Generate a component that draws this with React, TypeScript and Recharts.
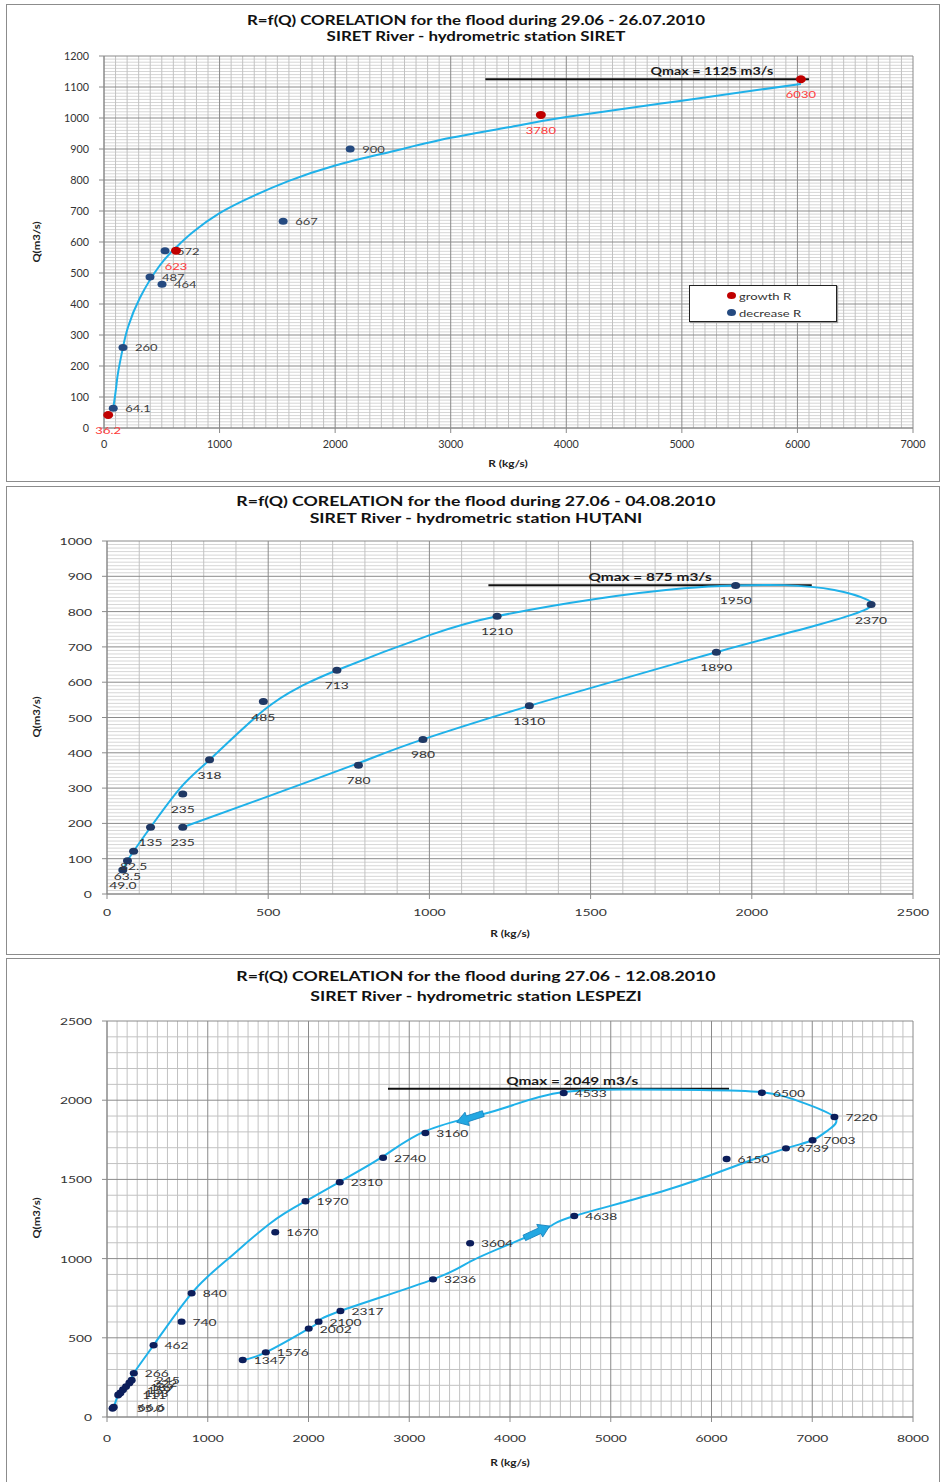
import React from 'react';
import { ComposedChart, Scatter, Line, XAxis, YAxis, ReferenceLine, Legend } from 'recharts';

const FONT = 'Lato, "Liberation Sans", sans-serif';
const LINE_BLUE = '#1FB1E9';

// ---------------- SIRET (chart 1) ----------------
const siretTitle = ['R=f(Q) CORELATION for the flood during 29.06 - 26.07.2010', 'SIRET River - hydrometric station SIRET'];
const siretXTicks = [0, 1000, 2000, 3000, 4000, 5000, 6000, 7000];
const siretYTicks = [0, 100, 200, 300, 400, 500, 600, 700, 800, 900, 1000, 1100, 1200];
const siretGrowthR = [36.2, 623, 3780, 6030];
const siretGrowthQ = [42, 572, 1010, 1125];
const siretGrowthLabels = ['36.2', '623', '3780', '6030'];
const siretDecreaseR = [2130, 1550, 528, 398, 502, 164, 80];
const siretDecreaseQ = [900, 667, 572, 487, 464, 260, 64.1];
const siretDecreaseLabels = ['900', '667', '572', '487', '464', '260', '64.1'];
const siretCurveR = [80, 105, 121, 164, 208, 311, 484, 630, 770, 1000, 1290, 1600, 2000, 2500, 3000, 3500, 4000, 5000, 6030];
const siretCurveQ = [64, 130, 177, 260, 326, 420, 525, 585, 632, 693, 748, 797, 847, 893, 936, 970, 1003, 1056, 1110];
const siretQmax = { from: 3300, to: 6100, q: 1125, text: 'Qmax = 1125 m3/s' };

// ---------------- HUTANI (chart 2) ----------------
const hutaniTitle = ['R=f(Q) CORELATION for the flood during 27.06 - 04.08.2010', 'SIRET River - hydrometric station HUȚANI'];
const hutaniXTicks = [0, 500, 1000, 1500, 2000, 2500];
const hutaniYTicks = [0, 100, 200, 300, 400, 500, 600, 700, 800, 900, 1000];
const hutaniR = [49, 63.5, 82.5, 135, 235, 318, 485, 713, 1210, 1950, 2370, 1890, 1310, 980, 780, 235];
const hutaniQ = [68, 94, 121, 189, 283, 380, 545, 634, 787, 874, 820, 685, 533, 438, 365, 189];
const hutaniLabels = ['49.0', '63.5', '82.5', '135', '235', '318', '485', '713', '1210', '1950', '2370', '1890', '1310', '980', '780', '235'];
const hutaniCurveR = [49, 63.5, 82.5, 135, 227, 318, 487, 599, 713, 1003, 1210, 1510, 1790, 1950, 2100, 2256, 2359, 2370, 2349, 2204, 1890, 1510, 1310, 980, 784, 504, 235];
const hutaniCurveQ = [68, 94, 121, 189, 300, 380, 521, 587, 634, 734, 787, 835, 866, 874, 875, 861, 833, 820, 804, 762, 685, 586, 533, 438, 372, 278, 189];
const hutaniQmax = { from: 1183, to: 2186, q: 875, text: 'Qmax = 875 m3/s' };

// ---------------- LESPEZI (chart 3) ----------------
const lespeziTitle = ['R=f(Q) CORELATION for the flood during 27.06 - 12.08.2010', 'SIRET River - hydrometric station LESPEZI'];
const lespeziXTicks = [0, 1000, 2000, 3000, 4000, 5000, 6000, 7000, 8000];
const lespeziYTicks = [0, 500, 1000, 1500, 2000, 2500];
const lespeziClusterR = [55, 66.6, 111, 133, 159, 189, 222, 245];
const lespeziClusterQ = [55, 62, 139, 152, 172, 192, 215, 232];
const lespeziClusterLabels = ['55.0', '66.6', '111', '133', '159', '189', '222', '245'];
const lespeziR = [266, 462, 740, 840, 1670, 1970, 2310, 2740, 3160, 4533, 6500, 7220, 7003, 6739, 6150, 4638, 3604, 3236, 2317, 2100, 2002, 1576, 1347];
const lespeziQ = [276, 453, 602, 781, 1166, 1362, 1482, 1637, 1793, 2045, 2047, 1894, 1747, 1696, 1629, 1269, 1097, 869, 669, 602, 558, 408, 360];
const lespeziLabels = ['266', '462', '740', '840', '1670', '1970', '2310', '2740', '3160', '4533', '6500', '7220', '7003', '6739', '6150', '4638', '3604', '3236', '2317', '2100', '2002', '1576', '1347'];
const lespeziCurveR = [66.6, 111, 159, 222, 266, 462, 840, 1188, 1618, 1970, 2310, 2740, 3160, 3702, 4033, 4533, 5224, 5886, 6500, 6878, 7220, 7160, 7003, 6739, 6217, 5554, 4638, 4397, 4033, 3613, 3236, 2317, 2100, 2002, 1576, 1347];
const lespeziCurveQ = [60, 139, 172, 215, 276, 453, 781, 991, 1222, 1362, 1485, 1645, 1805, 1907, 1970, 2052, 2068, 2064, 2050, 1991, 1894, 1812, 1747, 1696, 1580, 1433, 1269, 1203, 1101, 984, 869, 669, 602, 558, 408, 360];
const lespeziArrowR = [3603, 4268];
const lespeziArrowQ = [1888, 1168];
const lespeziArrowAngle = [162, -25];
const lespeziQmax = { from: 2789, to: 6174, q: 2072, text: 'Qmax  = 2049 m3/s' };

// ---------------- helpers ----------------
type Pt = { r: number; q: number; label?: string; angle?: number };
const zip = (rs: number[], qs: number[], labels?: string[]): Pt[] =>
  rs.map((r, i) => ({ r, q: qs[i], label: labels ? labels[i] : undefined }));

function steps(a: number, b: number, s: number) {
  const out: number[] = [];
  for (let i = 0; a + i * s <= b + 1e-9; i++) out.push(Math.round((a + i * s) * 1000) / 1000);
  return out;
}

const MINOR = '#C2C2C2';
const MAJOR = '#8A8A8A';

function gridLines(prefix: string, xs: number[], ys: number[], xMajor: number, yMajor: number, hMinor: string, vMinor: string) {
  const isMaj = (v: number, m: number) => Math.abs(v % m) < 1e-6;
  const out: any[] = [];
  ys.filter((v) => !isMaj(v, yMajor)).forEach((v) =>
    out.push(<ReferenceLine key={`${prefix}hm${v}`} y={v} stroke={hMinor} strokeWidth={1} />));
  xs.filter((v) => !isMaj(v, xMajor)).forEach((v) =>
    out.push(<ReferenceLine key={`${prefix}vm${v}`} x={v} stroke={vMinor} strokeWidth={1} />));
  ys.filter((v) => isMaj(v, yMajor)).forEach((v) =>
    out.push(<ReferenceLine key={`${prefix}hM${v}`} y={v} stroke={MAJOR} strokeWidth={1} />));
  xs.filter((v) => isMaj(v, xMajor)).forEach((v) =>
    out.push(<ReferenceLine key={`${prefix}vM${v}`} x={v} stroke={MAJOR} strokeWidth={1} />));
  return out;
}

const ST = (p: { x: number; y: number; children: any; anchor?: string; sx?: number; size?: number; color?: string; weight?: number }) => (
  <text
    transform={`translate(${p.x},${p.y}) scale(${p.sx ?? 1.3},1)`}
    textAnchor={(p.anchor ?? 'start') as any}
    fontSize={p.size ?? 10}
    fill={p.color ?? '#404040'}
    fontFamily={FONT}
    fontWeight={p.weight ?? 400}
  >
    {p.children}
  </text>
);

type LabCfg = { dx: number; dy: number; anchor: string; color: string; sx: number };
const dotShape = (fill: string, rx: number, ry: number, lab: LabCfg) => (props: any) => {
  const { cx, cy, payload } = props;
  if (cx == null || cy == null) return <g />;
  return (
    <g>
      <ellipse cx={cx} cy={cy} rx={rx} ry={ry} fill={fill} />
      {payload.label ? (
        <ST x={cx + lab.dx} y={cy + lab.dy} anchor={lab.anchor} color={lab.color} sx={lab.sx}>
          {payload.label}
        </ST>
      ) : null}
    </g>
  );
};

const arrowShape = (props: any) => {
  const { cx, cy, payload } = props;
  if (cx == null) return <g />;
  return (
    <polygon
      points="-14,-3 3,-3 3,-7 14,0 3,7 3,3 -14,3"
      transform={`translate(${cx},${cy}) rotate(${payload.angle})`}
      fill="#23A8E2"
      stroke="#1682BE"
      strokeWidth={0.8}
    />
  );
};

const yTick = (sx: number, size: number) => (props: any) => (
  <ST x={props.x} y={props.y + 4} anchor="end" sx={sx} size={size} color="#333">
    {props.payload.value}
  </ST>
);
const xTick = (sx: number, size: number) => (props: any) => (
  <ST x={props.x} y={props.y + 8} anchor="middle" sx={sx} size={size} color="#333">
    {props.payload.value}
  </ST>
);

const qmaxLabel = (text: string, frac: number, sx: number) => (props: any) => {
  const vb = props.viewBox || {};
  const x = (vb.x ?? 0) + (vb.width ?? 0) * frac;
  const y = (vb.y ?? 0) - 4;
  return (
    <ST x={x} y={y} anchor="middle" sx={sx} size={11} weight={700} color="#1a1a1a">
      {text}
    </ST>
  );
};

const legendContent = (props: any) => {
  const items = (props.payload || [])
    .filter((p: any) => p.value === 'growth R' || p.value === 'decrease R')
    .sort((a: any, b: any) => (a.value === 'growth R' ? -1 : 1) - (b.value === 'growth R' ? -1 : 1));
  return (
    <div
      style={{
        width: 148,
        height: 37,
        boxSizing: 'border-box',
        border: '1px solid #222',
        background: '#fff',
        boxShadow: '1px 1px 1px #999',
        paddingTop: 1,
      }}
    >
      {items.map((it: any) => (
        <div key={it.value} style={{ display: 'flex', alignItems: 'center', height: 17, paddingLeft: 37 }}>
          <span style={{ display: 'inline-block', width: 9, height: 7, borderRadius: '50%', background: it.color }} />
          <span
            style={{
              marginLeft: 3,
              fontFamily: FONT,
              fontSize: 10,
              color: '#333',
              display: 'inline-block',
              transform: 'scaleX(1.3)',
              transformOrigin: 'left center',
            }}
          >
            {it.value}
          </span>
        </div>
      ))}
    </div>
  );
};

const Title = ({ lines, top, lh, sx, size }: { lines: string[]; top: number; lh: number; sx: number; size: number }) => (
  <div
    style={{
      position: 'absolute',
      left: 76,
      width: 800,
      top,
      textAlign: 'center',
      fontFamily: FONT,
      fontWeight: 700,
      fontSize: size,
      lineHeight: `${lh}px`,
      color: '#111',
      transform: `scaleX(${sx})`,
      transformOrigin: '400px 0',
      whiteSpace: 'nowrap',
    }}
  >
    {lines.map((l) => (
      <div key={l}>{l}</div>
    ))}
  </div>
);

const AxisTitles = ({ qy, rx, ry }: { qy: number; rx: number; ry: number }) => (
  <>
    <div
      style={{
        position: 'absolute',
        left: 37 - 40,
        top: qy - 7,
        width: 80,
        height: 14,
        lineHeight: '14px',
        textAlign: 'center',
        fontFamily: FONT,
        fontWeight: 700,
        fontSize: 9.5,
        color: '#222',
        transform: 'rotate(-90deg) scaleX(1.2)',
      }}
    >
      Q(m3/s)
    </div>
    <div
      style={{
        position: 'absolute',
        left: rx - 60,
        top: ry - 7,
        width: 120,
        height: 14,
        lineHeight: '14px',
        textAlign: 'center',
        fontFamily: FONT,
        fontWeight: 700,
        fontSize: 9.5,
        color: '#222',
        transform: 'scaleX(1.25)',
      }}
    >
      R (kg/s)
    </div>
  </>
);

const Panel = ({ top, height }: { top: number; height: number }) => (
  <div
    style={{
      position: 'absolute',
      left: 6,
      top,
      width: 934,
      height,
      boxSizing: 'border-box',
      border: '1px solid #8c8c8c',
      background: '#fff',
    }}
  />
);

const axisCommon = { stroke: '#8A8A8A', tickLine: { stroke: '#8A8A8A' }, tickSize: 5 } as const;

// ---------------- data objects ----------------
const siretGrowth = zip(siretGrowthR, siretGrowthQ, siretGrowthLabels);
const siretDecrease = zip(siretDecreaseR, siretDecreaseQ, siretDecreaseLabels);
const siretCurve = zip(siretCurveR, siretCurveQ);
const hutaniPts = zip(hutaniR, hutaniQ, hutaniLabels);
const hutaniCurve = zip(hutaniCurveR, hutaniCurveQ);
const lespeziCluster = zip(lespeziClusterR, lespeziClusterQ, lespeziClusterLabels);
const lespeziPts = zip(lespeziR, lespeziQ, lespeziLabels);
const lespeziCurve = zip(lespeziCurveR, lespeziCurveQ);
const lespeziArrows: Pt[] = lespeziArrowR.map((r, i) => ({ r, q: lespeziArrowQ[i], angle: lespeziArrowAngle[i] }));

function SiretChart() {
  return (
    <div style={{ position: 'absolute', left: 0, top: 0 }}>
      <ComposedChart width={942} height={482} margin={{ top: 56, right: 29, left: 44, bottom: 24 }}>
        <XAxis type="number" dataKey="r" domain={[0, 7000]} ticks={siretXTicks} height={30} tickMargin={7} tick={xTick(0.98, 11)} {...axisCommon} />
        <YAxis type="number" dataKey="q" domain={[0, 1200]} ticks={siretYTicks} width={60} tickMargin={10} tick={yTick(0.98, 11)} {...axisCommon} />
        {gridLines('s', steps(0, 7000, 100), steps(0, 1200, 10), 1000, 100, '#D6D6D6', MINOR)}
        <ReferenceLine
          segment={[{ x: siretQmax.from, y: siretQmax.q }, { x: siretQmax.to, y: siretQmax.q }]}
          stroke="#111"
          strokeWidth={2}
          label={qmaxLabel(siretQmax.text, 0.7, 1.3)}
        />
        <Line data={siretCurve} dataKey="q" type="natural" stroke={LINE_BLUE} strokeWidth={2} dot={false} isAnimationActive={false} legendType="none" />
        <Scatter name="decrease R" data={siretDecrease} fill="#254A80" isAnimationActive={false}
          shape={dotShape('#254A80', 4.5, 3.5, { dx: 12, dy: 4, anchor: 'start', color: '#404040', sx: 1.3 })} />
        <Scatter name="growth R" data={siretGrowth} fill="#C00000" isAnimationActive={false}
          shape={dotShape('#C00000', 5, 4, { dx: 0, dy: 19, anchor: 'middle', color: '#FF3B3B', sx: 1.3 })} />
        <Legend layout="horizontal" verticalAlign="middle" align="center"
          wrapperStyle={{ position: 'absolute', left: 689, top: 285, width: 148, height: 37 }} content={legendContent} />
      </ComposedChart>
    </div>
  );
}

function HutaniChart() {
  return (
    <div style={{ position: 'absolute', left: 0, top: 486 }}>
      <ComposedChart width={942} height={469} margin={{ top: 55, right: 29, left: 47, bottom: 31 }}>
        <XAxis type="number" dataKey="r" domain={[0, 2500]} ticks={hutaniXTicks} height={30} tickMargin={9} tick={xTick(1.4, 10)} {...axisCommon} />
        <YAxis type="number" dataKey="q" domain={[0, 1000]} ticks={hutaniYTicks} width={60} tickMargin={10} tick={yTick(1.4, 10)} {...axisCommon} />
        {gridLines('h', steps(0, 2500, 100), steps(0, 1000, 10), 500, 100, '#D6D6D6', MINOR)}
        <ReferenceLine
          segment={[{ x: hutaniQmax.from, y: hutaniQmax.q }, { x: hutaniQmax.to, y: hutaniQmax.q }]}
          stroke="#111"
          strokeWidth={2}
          label={qmaxLabel(hutaniQmax.text, 0.5, 1.4)}
        />
        <Line data={hutaniCurve} dataKey="q" type="natural" stroke={LINE_BLUE} strokeWidth={2} dot={false} isAnimationActive={false} legendType="none" />
        <Scatter name="points" data={hutaniPts} fill="#1F3864" isAnimationActive={false}
          shape={dotShape('#1F3864', 4.5, 3.5, { dx: 0, dy: 19, anchor: 'middle', color: '#333', sx: 1.38 })} />
      </ComposedChart>
    </div>
  );
}

function LespeziChart() {
  return (
    <div style={{ position: 'absolute', left: 0, top: 958 }}>
      <ComposedChart width={942} height={524} margin={{ top: 63, right: 29, left: 47, bottom: 35 }}>
        <XAxis type="number" dataKey="r" domain={[0, 8000]} ticks={lespeziXTicks} height={30} tickMargin={12} tick={xTick(1.38, 10)} {...axisCommon} />
        <YAxis type="number" dataKey="q" domain={[0, 2500]} ticks={lespeziYTicks} width={60} tickMargin={10} tick={yTick(1.38, 10)} {...axisCommon} />
        {gridLines('l', steps(0, 8000, 100), steps(0, 2500, 100), 1000, 500, MINOR, MINOR)}
        <ReferenceLine
          segment={[{ x: lespeziQmax.from, y: lespeziQmax.q }, { x: lespeziQmax.to, y: lespeziQmax.q }]}
          stroke="#111"
          strokeWidth={2}
          label={qmaxLabel(lespeziQmax.text, 0.54, 1.4)}
        />
        <Line data={lespeziCurve} dataKey="q" type="natural" stroke={LINE_BLUE} strokeWidth={2} dot={false} isAnimationActive={false} legendType="none" />
        <Scatter name="cluster" data={lespeziCluster} fill="#0C1E5B" isAnimationActive={false}
          shape={dotShape('#0C1E5B', 4, 3.4, { dx: 24, dy: 4, anchor: 'start', color: '#333', sx: 1.38 })} />
        <Scatter name="points" data={lespeziPts} fill="#0C1E5B" isAnimationActive={false}
          shape={dotShape('#0C1E5B', 4, 3.2, { dx: 11, dy: 4, anchor: 'start', color: '#333', sx: 1.38 })} />
        <Scatter name="arrows" data={lespeziArrows} fill="#23A8E2" isAnimationActive={false} shape={arrowShape} />
      </ComposedChart>
    </div>
  );
}

export default function App() {
  return (
    <div style={{ position: 'absolute', left: 0, top: 0, width: 942, height: 1482, background: '#fff', overflow: 'hidden' }}>
      <Panel top={4} height={478} />
      <Panel top={486} height={469} />
      <Panel top={958} height={540} />
      <SiretChart />
      <HutaniChart />
      <LespeziChart />
      <Title lines={siretTitle} top={12} lh={16} sx={1.3} size={13} />
      <Title lines={hutaniTitle} top={493} lh={17} sx={1.36} size={13} />
      <Title lines={lespeziTitle} top={966} lh={20} sx={1.36} size={13} />
      <AxisTitles qy={242} rx={508} ry={464} />
      <AxisTitles qy={717} rx={510} ry={934} />
      <AxisTitles qy={1218} rx={510} ry={1463} />
    </div>
  );
}
